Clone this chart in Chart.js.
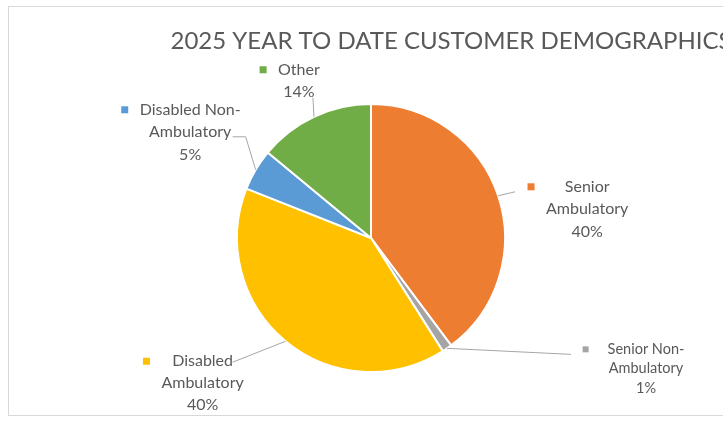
<!DOCTYPE html>
<html>
<head>
<meta charset="utf-8">
<script src="https://cdn.jsdelivr.net/npm/chart.js@4.4.0/dist/chart.umd.min.js"></script>
<style>
  html, body { margin: 0; padding: 0; overflow: hidden; background: #fff; }
  #frame { position: absolute; left: 8px; top: 6px; width: 884px; height: 408px; border: 1px solid #d9d9d9; }
  canvas { display: block; }
</style>
</head>
<body>
<div id="frame"><canvas id="myChart" width="884" height="408"></canvas></div>
<script>
const chartTitle = "2025 YEAR TO DATE CUSTOMER DEMOGRAPHICS";
const categories = ["Senior Ambulatory", "Senior Non-Ambulatory", "Disabled Ambulatory", "Disabled Non-Ambulatory", "Other"];
// how each category name is broken in its data label
const labelLines = [["Senior", "Ambulatory"], ["Senior Non-", "Ambulatory"], ["Disabled", "Ambulatory"], ["Disabled Non-", "Ambulatory"], ["Other"]];
const percentages = [39.8, 1.2, 40, 5, 14];
const sliceColors = ["#ed7d31", "#a5a5a5", "#ffc000", "#5b9bd5", "#70ad47"];

// label placement, relative to the point where each slice's middle meets the rim
const labelPlace = [
  { dx: 89, dy: -9, size: 16, lh: 22.5, gap: 15, leader: [[17, -4]] },
  { dx: 199, dy: 1, size: 14.5, lh: 19.3, gap: 22, leader: [[124, 6]] },
  { dx: -83, dy: 20, size: 16, lh: 22, gap: 15, leader: [[-53, 21]] },
  { dx: -65.5, dy: -60, size: 16, lh: 22.5, gap: 15, leader: [[-10, -33], [-23, -33]] },
  { dx: -15, dy: -47, size: 16, lh: 22.5, gap: 15, leader: [[-1, -19]] },
];

const pieLabels = {
  id: "pieLabels",
  afterDraw(chart) {
    const ctx = chart.ctx;
    ctx.save();

    // title
    ctx.font = "24px Lato";
    ctx.fillStyle = "#595959";
    ctx.textAlign = "center";
    ctx.textBaseline = "alphabetic";
    ctx.fillText(chartTitle, chart.width / 2, 42);

    const values = chart.data.datasets[0].data;
    const total = values.reduce((a, b) => a + b, 0);
    const meta = chart.getDatasetMeta(0);

    meta.data.forEach((arc, i) => {
      const mid = (arc.startAngle + arc.endAngle) / 2;
      const ex = arc.x + Math.cos(mid) * arc.outerRadius;
      const ey = arc.y + Math.sin(mid) * arc.outerRadius;
      const p = labelPlace[i];

      // leader line
      ctx.strokeStyle = "#a6a6a6";
      ctx.lineWidth = 1;
      ctx.beginPath();
      ctx.moveTo(ex, ey);
      p.leader.forEach(([lx, ly]) => ctx.lineTo(ex + lx, ey + ly));
      ctx.stroke();

      // text
      const lines = labelLines[i].concat(Math.round(values[i] / total * 100) + "%");
      ctx.font = p.size + "px Lato";
      ctx.fillStyle = "#595959";
      ctx.textBaseline = "middle";
      const cx = ex + p.dx;
      const y0 = ey + p.dy;
      const maxW = Math.max(...lines.map((t) => ctx.measureText(t).width));
      lines.forEach((t, k) => ctx.fillText(t, cx, y0 + k * p.lh));

      // legend key
      const ms = p.size < 16 ? 6 : 7;
      ctx.fillStyle = sliceColors[i];
      ctx.fillRect(cx - maxW / 2 - p.gap - ms / 2, y0 - ms / 2, ms, ms);
    });
    ctx.restore();
  },
};

new Chart(document.getElementById("myChart"), {
  type: "pie",
  data: {
    labels: categories,
    datasets: [
      {
        data: percentages,
        backgroundColor: sliceColors,
        borderColor: "#ffffff",
        borderWidth: 2,
      },
    ],
  },
  options: {
    responsive: false,
    animation: false,
    layout: { padding: { left: 227, right: 387, top: 96, bottom: 42 } },
    plugins: {
      legend: { display: false },
      tooltip: { enabled: false },
    },
  },
  plugins: [pieLabels],
});
</script>
</body>
</html>
